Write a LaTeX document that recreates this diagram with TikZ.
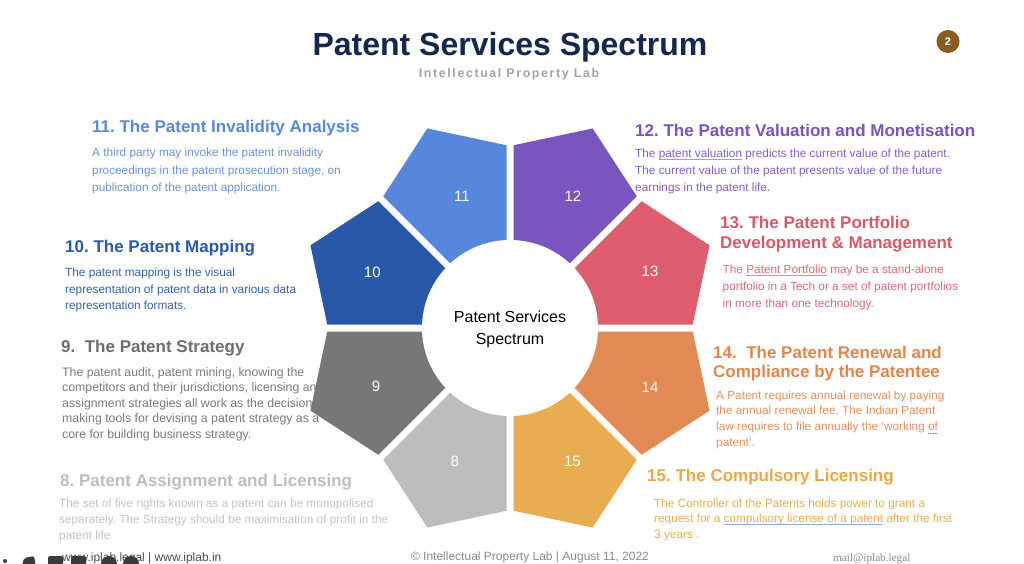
\documentclass[tikz,border=0pt]{standalone}
\usepackage{fontspec}
\setmainfont{Liberation Sans}
\newfontfamily\serifft{Liberation Serif}
\definecolor{titlec}{HTML}{14284F}
\definecolor{subc}{HTML}{A3A3A3}
\definecolor{badge}{HTML}{8B5A1F}
\definecolor{c11}{HTML}{5787DC}\definecolor{h11}{HTML}{5A88DA}\definecolor{b11}{HTML}{6B93DD}
\definecolor{c12}{HTML}{7A54BF}\definecolor{h12}{HTML}{7A52C1}\definecolor{b12}{HTML}{8560C6}
\definecolor{c13}{HTML}{DD5D6F}\definecolor{h13}{HTML}{D9596A}\definecolor{b13}{HTML}{DD6A78}
\definecolor{c14}{HTML}{E28A54}\definecolor{h14}{HTML}{E0874E}\definecolor{b14}{HTML}{E29060}
\definecolor{c15}{HTML}{E9AC50}\definecolor{h15}{HTML}{E8A848}\definecolor{b15}{HTML}{EAAE55}
\definecolor{c8}{HTML}{BDBDBD}\definecolor{h8}{HTML}{BEBEBE}\definecolor{b8}{HTML}{C4C4C4}
\definecolor{c9}{HTML}{777777}\definecolor{h9}{HTML}{6E6E6E}\definecolor{b9}{HTML}{7B7B7B}
\definecolor{c10}{HTML}{2A58A8}\definecolor{h10}{HTML}{2B5AAA}\definecolor{b10}{HTML}{3562AE}
\definecolor{ulc}{HTML}{8FA8D8}
\definecolor{footc}{HTML}{8A8A8A}
\definecolor{iconc}{HTML}{3A3A3A}
\newcommand\myul[2]{\setbox0=\hbox{#2}\rlap{\textcolor{#1}{\rule[-2.2pt]{\wd0}{0.7pt}}}\box0\relax}
\newcommand\mydot[1]{\setbox0=\hbox{#1}\rlap{\raisebox{-2.6pt}{\textcolor{red!65}{\hbox to\wd0{\leaders\hbox to 1.6pt{\hss\rule{0.8pt}{0.7pt}\hss}\hfill}}}}\box0\relax}
\frenchspacing
\tikzset{
  head/.style={anchor=base west, inner sep=0pt, font=\bfseries\fontsize{17}{20}\selectfont},
  body/.style={anchor=base west, inner sep=0pt, font=\fontsize{11.8}{14}\selectfont},
  num/.style={text=white, inner sep=0pt, font=\fontsize{15}{17}\selectfont},
}
\begin{document}
\begin{tikzpicture}[x=1pt,y=-1pt]
\useasboundingbox (0,0) rectangle (1024,564);
\fill[white] (0,0) rectangle (1024,564);

% title
\node[anchor=base, font=\bfseries\fontsize{32}{36}\selectfont, text=titlec, inner sep=0pt] (title) at (510,55.5) {Patent Services Spectrum};
\node[anchor=base, font=\bfseries\fontsize{12.4}{14}\selectfont\addfontfeature{LetterSpace=13}, text=subc, inner sep=0pt] (subtitle) at (509,77.3) {Intellectual Property Lab};
\node[circle, fill=badge, minimum size=23pt, inner sep=0pt, text=white, font=\bfseries\fontsize{11}{12}\selectfont] (badge) at (948,41.5) {2};

% text blocks (drawn below the ring)
\node[head, text=h11] (h11) at (92,133) {11. The Patent Invalidity Analysis};
\foreach \t [count=\i] in {{A third party may invoke the patent invalidity},{proceedings in the patent prosecution stage, on},{publication of the patent application.}}
  \node[body, text=b11] (b11-\i) at (92,{157+17.3*(\i-1)}) {\t};

\node[head, text=h12] (h12) at (635,137) {12. The Patent Valuation and Monetisation};
\foreach \t [count=\i] in {{The \myul{ulc}{patent valuation} predicts the current value of the patent.},{The current value of the patent presents value of the future},{earnings in the patent life.}}
  \node[body, text=b12] (b12-\i) at (635,{157.5+17.2*(\i-1)}) {\t};

\node[head, text=h10] (h10) at (65,252) {10. The Patent Mapping};
\foreach \t [count=\i] in {{The patent mapping is the visual},{representation of patent data in various data},{representation formats.}}
  \node[body, text=b10] (b10-\i) at (65,{276.5+16.5*(\i-1)}) {\t};

\node[head, text=h13] (h13a) at (720,228) {13. The Patent Portfolio};
\node[head, text=h13] (h13b) at (720,248) {Development \& Management};
\foreach \t [count=\i] in {{The \myul{ulc}{Patent Portfolio} may be a stand-alone},{portfolio in a Tech or a set of patent portfolios},{in more than one technology.}}
  \node[body, text=b13] (b13-\i) at (722.5,{273+17*(\i-1)}) {\t};

\node[head, text=h9] (h9) at (61,352) {9.\ \ The Patent Strategy};
\foreach \t [count=\i] in {{The patent audit, patent mining, knowing the},{competitors and their jurisdictions, licensing and},{assignment strategies all work as the decision-},{making tools for devising a patent strategy as a},{core for building business strategy.}}
  \node[body, text=b9, font=\fontsize{12.3}{14}\selectfont] (b9-\i) at (62,{376+15.6*(\i-1)}) {\t};

\node[head, text=h14] (h14a) at (713,358) {14.\ \ The Patent Renewal and};
\node[head, text=h14] (h14b) at (713,377.5) {Compliance by the Patentee};
\foreach \t [count=\i] in {{A Patent requires annual renewal by paying},{the annual renewal fee. The Indian Patent},{law requires to file annually the ‘working \mydot{of}},{patent’.}}
  \node[body, text=b14] (b14-\i) at (716,{399+15.8*(\i-1)}) {\t};

\node[head, text=h8] (h8) at (60,486.5) {8. Patent Assignment and Licensing};
\foreach \t [count=\i] in {{The set of five rights known as a patent can be monopolised},{separately. The Strategy should be maximisation of profit in the},{patent life.}}
  \node[body, text=b8] (b8-\i) at (59,{507.5+15.8*(\i-1)}) {\t};

\node[head, text=h15] (h15) at (647,481.5) {15. The Compulsory Licensing};
\foreach \t [count=\i] in {{The Controller of the Patents holds power to grant a},{request for a \myul{ulc}{compulsory license of a patent} after the first},{3 years .}}
  \node[body, text=b15] (b15-\i) at (654,{507+15.9*(\i-1)}) {\t};

% ring of pentagons
\begin{scope}[shift={(510,328)}, yscale=-1]
  \foreach \a/\c in {67.5/c12, 22.5/c13, -22.5/c14, -67.5/c15, -112.5/c8, -157.5/c9, 157.5/c10, 112.5/c11} {
    \begin{scope}
      \clip[shift={(\a:9.146)}] (0,0) -- (\a+22.5:400) -- (\a-22.5:400) -- cycle;
      \fill[\c] (0,0) -- (\a+22.5:182) -- (\a:216) -- (\a-22.5:182) -- cycle;
    \end{scope}
  }
  \fill[white] (0,0) circle[radius=88];
  \node[num] (n12) at (64.5:146) {12};
  \node[num] (n13) at (22:151) {13};
  \node[num] (n14) at (-22.9:152) {14};
  \node[num] (n15) at (-65:147.6) {15};
  \node[num] (n8) at (-112.5:144) {8};
  \node[num] (n9) at (-156.6:146) {9};
  \node[num] (n10) at (158:148.5) {10};
  \node[num] (n11) at (110:140.5) {11};
\end{scope}
\node[align=center, font=\fontsize{16}{22}\selectfont, inner sep=0pt] (centre) at (510,329) {Patent Services\\Spectrum};

% footer
\node[anchor=base, font=\fontsize{12}{14}\selectfont, text=footc, inner sep=0pt] (foot) at (530,560) {© Intellectual Property Lab | August 11, 2022};
\node[anchor=base west, font=\serifft\fontsize{11.2}{13}\selectfont, text=footc, inner sep=0pt] (mail) at (833,561) {mail@iplab.legal};
\node[anchor=base west, font=\fontsize{12}{14}\selectfont, text=black!70, inner sep=0pt] (web) at (62,561) {www.iplab.legal | www.iplab.in};

% icons (cut off at the bottom)
\fill[iconc] (5,561) circle[radius=2];
\fill[iconc, rounded corners=2pt] (24,558) -- (34,556) -- (36,566) -- (22,566) -- cycle;
\fill[iconc, rounded corners=2pt] (48,556) rectangle (63,568);
\fill[iconc, rounded corners=2pt] (71,556) rectangle (86,568);
\fill[iconc] (109,564) circle[radius=8];
\fill[iconc] (131,564) circle[radius=8];
\end{tikzpicture}
\end{document}
